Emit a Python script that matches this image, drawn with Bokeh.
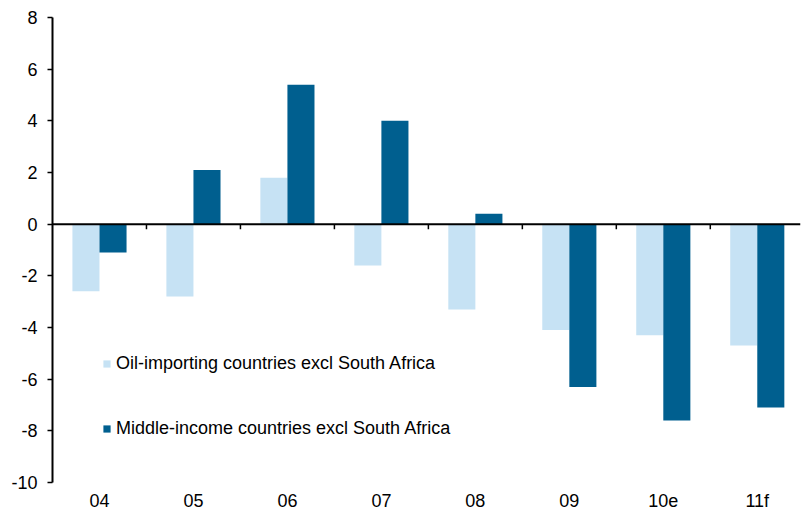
from bokeh.plotting import figure
from bokeh.models import Range1d, Span, Legend, LegendItem, FixedTicker
from bokeh.embed import file_html
from bokeh.resources import INLINE

categories = ["04", "05", "06", "07", "08", "09", "10e", "11f"]
oil_importing = [-2.6, -2.8, 1.8, -1.6, -3.3, -4.1, -4.3, -4.7]
middle_income = [-1.1, 2.1, 5.4, 4.0, 0.4, -6.3, -7.6, -7.1]
y_ticks = [-10, -8, -6, -4, -2, 0, 2, 4, 6, 8]

LIGHT = "#c6e2f4"
DARK = "#005f8f"
FONT = "Liberation Sans"

n = len(categories)
centers = [i + 0.5 for i in range(n)]
bar_w = 0.288

p = figure(width=801, height=513, output_backend="svg", toolbar_location=None,
           x_range=Range1d(0, 7.96), y_range=Range1d(-10, 8),
           min_border_left=52, min_border_right=1, min_border_top=17, min_border_bottom=30)
p.outline_line_color = None
p.grid.visible = False
p.background_fill_color = "white"
p.border_fill_color = "white"

r1 = p.vbar(x=[c - bar_w / 2 for c in centers], top=oil_importing, bottom=0, width=bar_w,
            fill_color=LIGHT, line_color=None)
r2 = p.vbar(x=[c + bar_w / 2 for c in centers], top=middle_income, bottom=0, width=bar_w,
            fill_color=DARK, line_color=None)

# zero line with category separator ticks
p.add_layout(Span(location=0, dimension="width", line_color="black", line_width=2))
bounds = list(range(1, n))
p.segment(x0=bounds, x1=bounds, y0=[0] * len(bounds), y1=[-0.2] * len(bounds),
          line_color="black", line_width=1.5)

# y axis
ya = p.yaxis[0]
ya.ticker = FixedTicker(ticks=y_ticks)
ya.major_label_overrides = {t: str(t) for t in y_ticks}
ya.axis_line_width = 2
ya.axis_line_color = "black"
ya.major_tick_line_width = 1.5
ya.major_tick_out = 5
ya.major_tick_in = 0
ya.minor_tick_line_color = None
ya.major_label_text_font = FONT
ya.major_label_text_font_size = "18px"
ya.major_label_text_color = "black"
ya.major_label_standoff = 10

# x axis: labels only
xa = p.xaxis[0]
xa.ticker = FixedTicker(ticks=centers)
xa.major_label_overrides = {c: lab for c, lab in zip(centers, categories)}
xa.axis_line_color = None
xa.major_tick_line_color = None
xa.major_tick_out = 0
xa.major_tick_in = 0
xa.minor_tick_line_color = None
xa.minor_tick_out = 0
xa.major_label_text_font = FONT
xa.major_label_text_font_size = "18px"
xa.major_label_text_color = "black"
xa.major_label_standoff = 8

legend = Legend(items=[
    LegendItem(label="Oil-importing countries excl South Africa", renderers=[r1]),
    LegendItem(label="Middle-income countries excl South Africa", renderers=[r2]),
], location=(50, 43))
legend.glyph_width = 9
legend.glyph_height = 9
legend.label_height = 20
legend.label_standoff = 5
legend.spacing = 44
legend.padding = 0
legend.margin = 0
legend.label_text_font = FONT
legend.label_text_font_size = "18px"
legend.label_text_color = "black"
legend.background_fill_alpha = 0
legend.border_line_color = None
p.add_layout(legend)

open("out.html", "w").write(file_html(p, INLINE))
